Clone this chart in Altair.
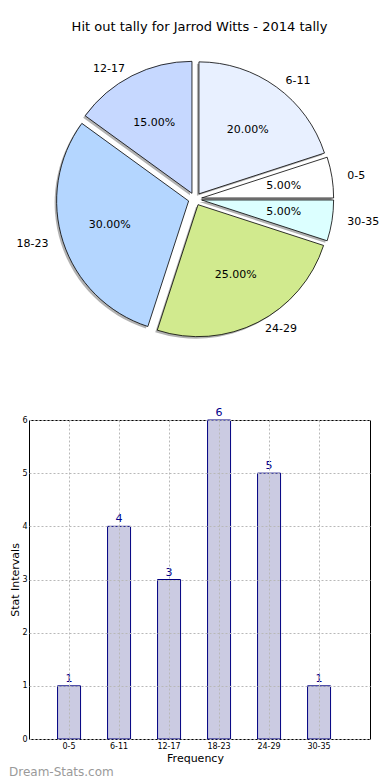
import math
import altair as alt
import pandas as pd

# ---- data ----
categories = ["0-5", "6-11", "12-17", "18-23", "24-29", "30-35"]
counts = [1, 4, 3, 6, 5, 1]
pie_colors = ["#ffffff", "#e8f0ff", "#c6d8ff", "#b4d6ff", "#d1ea8e", "#dcffff"]
y_ticks = [0, 1, 2, 3, 4, 5, 6]

FONT = "DejaVu Sans"
PW = 341           # panel width
CX = 166           # pie centre inside the panel (px)
CY = 155
RX, RY = 134, 127  # label radius scale
R_ARC = 132
EXPLODE = 0.05

df = pd.DataFrame({
    "cat": categories,
    "count": counts,
    "idx": list(range(len(categories))),
    "color": pie_colors,
})

base = (
    alt.Chart(df)
    .transform_joinaggregate(total="sum(count)")
    .transform_window(
        cum="sum(count)",
        sort=[alt.SortField("idx", order="descending")],
        frame=[None, 0],
    )
    .transform_calculate(
        end="datum.cum / datum.total",
        start="(datum.cum - datum.count) / datum.total",
    )
    .transform_calculate(
        ang="PI / 2 + PI * (datum.start + datum.end)",
        pct="format(100 * datum.count / datum.total, '.2f') + '%'",
    )
    .transform_calculate(
        ex=f"{EXPLODE} * sin(datum.ang)",
        ey=f"{EXPLODE} * cos(datum.ang)",
    )
    .transform_calculate(
        px="datum.ex + 0.62 * sin(datum.ang)",
        py="datum.ey + 0.62 * cos(datum.ang)",
        lx="datum.ex + 1.1 * sin(datum.ang)",
        ly="datum.ey + 1.1 * cos(datum.ang)",
    )
)

xs = alt.Scale(domain=[-1, 1], range=[CX - RX, CX + RX])
ys = alt.Scale(domain=[-1, 1], range=[CY + RY, CY - RY])
theta_scale = alt.Scale(domain=[0, 1], range=[math.pi / 2, 5 * math.pi / 2])

shadow = base.mark_arc(radius=R_ARC, xOffset=-2, yOffset=2, fill="#555555", opacity=0.45).encode(
    x=alt.X("ex:Q", scale=xs, axis=None),
    y=alt.Y("ey:Q", scale=ys, axis=None),
    theta=alt.Theta("start:Q", scale=theta_scale),
    theta2="end:Q",
)

wedges = base.mark_arc(radius=R_ARC, stroke="black", strokeWidth=0.8).encode(
    x=alt.X("ex:Q", scale=xs, axis=None),
    y=alt.Y("ey:Q", scale=ys, axis=None),
    theta=alt.Theta("start:Q", scale=theta_scale),
    theta2="end:Q",
    fill=alt.Fill("color:N", scale=None),
)

pct_text = base.mark_text(font=FONT, fontSize=11, color="black").encode(
    x=alt.X("px:Q", scale=xs, axis=None),
    y=alt.Y("py:Q", scale=ys, axis=None),
    text="pct:N",
)

lab_right = base.transform_filter("sin(datum.ang) >= 0").mark_text(
    font=FONT, fontSize=11, color="black", align="left", baseline="middle"
).encode(
    x=alt.X("lx:Q", scale=xs, axis=None),
    y=alt.Y("ly:Q", scale=ys, axis=None),
    text="cat:N",
)
lab_left = base.transform_filter("sin(datum.ang) < 0").mark_text(
    font=FONT, fontSize=11, color="black", align="right", baseline="middle"
).encode(
    x=alt.X("lx:Q", scale=xs, axis=None),
    y=alt.Y("ly:Q", scale=ys, axis=None),
    text="cat:N",
)

pie = alt.layer(shadow, wedges, pct_text, lab_right, lab_left).properties(
    width=PW,
    height=300,
    title=alt.TitleParams(
        "Hit out tally for Jarrod Witts - 2014 tally",
        font=FONT, fontSize=13, fontWeight="normal", color="black", anchor="middle",
        offset=10, frame="group",
    ),
)

bdf = pd.DataFrame({"cat": categories, "count": counts})

bx = alt.X(
    "cat:N",
    sort=categories,
    scale=alt.Scale(paddingInner=0.54, paddingOuter=0.68, align=0.42),
    axis=alt.Axis(
        title="Frequency", labelAngle=0, grid=True, gridDash=[2, 2], gridColor="#b8b8b8",
        ticks=False, domain=False, labelFontSize=8, titleFontSize=11, labelFont=FONT,
        titleFont=FONT, titleFontWeight="normal", labelColor="black", titleColor="black",
        labelPadding=3, titlePadding=2, zindex=1, bandPosition=0.5, titleX=166,
    ),
)
by = alt.Y(
    "count:Q",
    scale=alt.Scale(domain=[0, 6]),
    axis=alt.Axis(
        title="Stat Intervals", values=y_ticks, grid=True, gridDash=[2, 2], gridColor="#b8b8b8",
        ticks=False, domain=False, labelFontSize=8, titleFontSize=11, labelFont=FONT,
        titleFont=FONT, titleFontWeight="normal", labelColor="black", titleColor="black",
        labelPadding=2, titlePadding=1, zindex=1,
    ),
)

bars = alt.Chart(bdf).mark_bar(fill="#cbcbe2", stroke="#000080", strokeWidth=1).encode(x=bx, y=by)
bar_text = alt.Chart(bdf).mark_text(
    font=FONT, fontSize=11, color="#00008b", baseline="bottom", dy=-2
).encode(x=bx, y=by, text="count:Q")

bar_chart = alt.layer(bars, bar_text).properties(
    width=PW,
    height=319,
    view=alt.ViewBackground(stroke="black", strokeWidth=1),
    title=alt.TitleParams(
        "Dream-Stats.com", orient="bottom", anchor="start", font=FONT, fontSize=12,
        fontWeight="normal", color="#9a9a9a", offset=4, dx=-20, frame="group",
    ),
)

chart = (
    alt.vconcat(pie, bar_chart, spacing=76, bounds="flush")
    .properties(padding={"left": 0, "top": 12, "right": 0, "bottom": 0})
    .configure_view(stroke="transparent")
)

chart.save("out.html", embed_options={"renderer": "svg", "actions": False})
